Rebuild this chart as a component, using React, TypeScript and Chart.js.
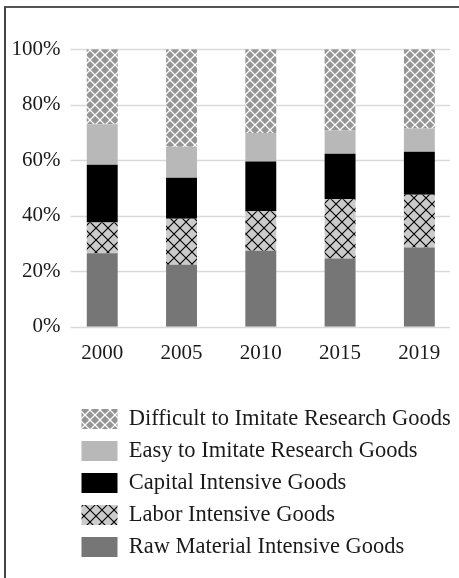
import React, { useEffect, useRef } from "react";
import { Chart, registerables } from "chart.js";

Chart.register(...registerables);

const categories = ["2000", "2005", "2010", "2015", "2019"];
const rawMaterial = [26.5, 22.4, 27.4, 24.6, 28.6];
const laborIntensive = [11.1, 16.5, 14.2, 21.4, 19.0];
const capitalIntensive = [20.8, 14.8, 18.0, 16.4, 15.5];
const easyResearch = [14.6, 11.2, 10.2, 8.3, 8.4];
const difficultResearch = [27.0, 35.1, 30.2, 29.3, 28.5];
const yTicks = [0, 20, 40, 60, 80, 100];

const FONT = "'Liberation Serif', 'Times New Roman', serif";

function crossPattern(bg: string, line: string, size: number, lw: number) {
  const c = document.createElement("canvas");
  c.width = size;
  c.height = size;
  const ctx = c.getContext("2d")!;
  ctx.fillStyle = bg;
  ctx.fillRect(0, 0, size, size);
  ctx.strokeStyle = line;
  ctx.lineWidth = lw;
  for (const dx of [-size, 0, size]) {
    ctx.beginPath();
    ctx.moveTo(dx, 0);
    ctx.lineTo(dx + size, size);
    ctx.moveTo(dx + size, 0);
    ctx.lineTo(dx, size);
    ctx.stroke();
  }
  return ctx.createPattern(c, "repeat")!;
}

const gridPlugin = {
  id: "insetGrid",
  beforeDatasetsDraw(chart: any) {
    const { ctx, chartArea, scales } = chart;
    const y = scales.y;
    ctx.save();
    ctx.strokeStyle = "#d9d9d9";
    ctx.lineWidth = 1.5;
    for (const t of yTicks) {
      const py = Math.round(y.getPixelForValue(t)) + 0.5;
      ctx.beginPath();
      ctx.moveTo(chartArea.left + 8, py);
      ctx.lineTo(chartArea.right - 9, py);
      ctx.stroke();
    }
    ctx.restore();
  },
};

const legendShift = {
  id: "legendShift",
  afterLayout(chart: any) {
    const l = chart.legend;
    if (l) {
      l.left += 72;
      l.right += 72;
    }
  },
};

export default function App() {
  const ref = useRef<HTMLCanvasElement>(null);
  useEffect(() => {
    const canvas = ref.current!;
    const ctx = canvas.getContext("2d")!;
    const difficultFill = crossPattern("#959595", "#ffffff", 10, 1.25);
    const laborFill = crossPattern("#cbcbcb", "#000000", 12, 1.1);
    const chart = new Chart(ctx, {
      type: "bar",
      data: {
        labels: categories,
        datasets: [
          { label: "Raw Material Intensive Goods", data: rawMaterial, backgroundColor: "#767676" },
          { label: "Labor Intensive Goods", data: laborIntensive, backgroundColor: laborFill as any },
          { label: "Capital Intensive Goods", data: capitalIntensive, backgroundColor: "#000000" },
          { label: "Easy to Imitate Research Goods", data: easyResearch, backgroundColor: "#b8b8b8" },
          { label: "Difficult to Imitate Research Goods", data: difficultResearch, backgroundColor: difficultFill as any },
        ],
      },
      options: {
        responsive: false,
        animation: false,
        layout: { padding: { top: 49.3, bottom: 9.7, left: 0, right: 0 } },
        datasets: { bar: { barPercentage: 0.39, categoryPercentage: 1, borderWidth: 0 } },
        scales: {
          x: {
            stacked: true,
            grid: { display: false, drawTicks: false },
            border: { display: false },
            ticks: { padding: 14, color: "#1a1a1a", font: { family: FONT, size: 21 } },
            afterFit: (s: any) => { s.height = 71.5; },
          },
          y: {
            stacked: true,
            min: 0,
            max: 100,
            grid: { display: false, drawTicks: false },
            border: { display: false },
            afterFit: (s: any) => { s.width = 62.6; },
            afterBuildTicks: (s: any) => { s.ticks = yTicks.map((v) => ({ value: v })); },
            ticks: {
              padding: 2,
              color: "#1a1a1a",
              font: { family: FONT, size: 21 },
              callback: (v: any) => `${v}%`,
            },
          },
        },
        plugins: {
          tooltip: { enabled: false },
          legend: {
            position: "bottom",
            align: "start",
            reverse: true,
            labels: {
              boxWidth: 36,
              boxHeight: 20,
              padding: 9.5,
              color: "#1a1a1a",
              font: { family: FONT, size: 22.5 },
            },
          },
        },
      },
      plugins: [gridPlugin, legendShift],
    });
    return () => chart.destroy();
  }, []);

  return (
    <div style={{ position: "fixed", left: 0, top: 0, width: 459, height: 578, overflow: "hidden", background: "#fff" }}>
      <div
        style={{
          position: "absolute",
          left: 4,
          top: 6,
          width: 500,
          height: 600,
          borderLeft: "2px solid #444",
          borderTop: "2px solid #555",
          boxSizing: "border-box",
        }}
      />
      <canvas ref={ref} width={459} height={578} style={{ position: "absolute", left: 0, top: 0 }} />
    </div>
  );
}
